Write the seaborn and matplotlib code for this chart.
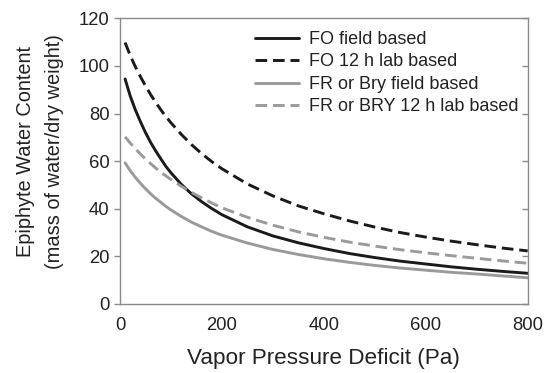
import numpy as np
import pandas as pd
import matplotlib
matplotlib.use("Agg")
import matplotlib.pyplot as plt
import seaborn as sns

# Vapor pressure deficit (Pa) at which each curve is sampled
vpd = [10, 20, 30, 40, 50, 60, 70, 80, 90, 100, 120, 140, 160, 180, 200,
       250, 300, 350, 400, 450, 500, 550, 600, 650, 700, 750, 800]

# Epiphyte water content (mass of water / dry weight)
fo_field = [94.5, 87.4, 81.6, 76.6, 72.0, 67.9, 64.3, 61.0, 57.8, 55.1, 50.3,
            46.3, 43.0, 40.1, 37.5, 32.4, 28.6, 25.7, 23.3, 21.2, 19.5, 18.0,
            16.8, 15.6, 14.6, 13.7, 12.9]
fo_lab = [109.8, 104.4, 99.7, 95.5, 91.6, 88.0, 84.7, 81.6, 78.7, 76.1, 71.3,
          67.0, 63.2, 59.8, 56.8, 50.4, 45.4, 41.2, 37.9, 34.9, 32.3, 30.0,
          28.1, 26.4, 24.9, 23.5, 22.3]
fr_field = [59.3, 56.0, 53.2, 50.7, 48.4, 46.3, 44.4, 42.7, 41.0, 39.5, 36.8,
            34.4, 32.4, 30.5, 28.9, 25.6, 22.9, 20.8, 19.0, 17.5, 16.2, 15.1,
            14.2, 13.3, 12.6, 11.8, 11.0]
fr_lab = [70.2, 67.6, 65.2, 63.0, 60.9, 59.0, 57.1, 55.4, 53.8, 52.3, 49.5,
          46.9, 44.6, 42.4, 40.4, 36.4, 33.1, 30.3, 28.0, 26.0, 24.3, 22.8,
          21.5, 20.3, 19.2, 18.1, 17.1]

labels = ["FO field based", "FO 12 h lab based",
          "FR or Bry field based", "FR or BRY 12 h lab based"]

sns.set_style("white")
plt.rcParams["font.family"] = ["Liberation Sans", "DejaVu Sans"]

axis_grey = "#8a8a8a"
text_col = "#222222"

fig = plt.figure(figsize=(5.52, 3.73), dpi=100)
ax = fig.add_axes([0.2174, 0.185, 0.7386, 0.766])

series = [
    (fo_field, "#1a1a1a", "-"),
    (fo_lab, "#1a1a1a", (0, (4, 2))),
    (fr_field, "#9a9a9a", "-"),
    (fr_lab, "#9a9a9a", (0, (4, 2))),
]
for (vals, col, ls), lab in zip(series, labels):
    df = pd.DataFrame({"vpd": vpd, "wc": vals})
    sns.lineplot(data=df, x="vpd", y="wc", ax=ax, color=col, linestyle=ls,
                 linewidth=2.1, label=lab)

ax.set_xlim(0, 800)
ax.set_ylim(0, 120)
ax.set_xticks([0, 200, 400, 600, 800])
ax.set_yticks([0, 20, 40, 60, 80, 100, 120])

for sp in ax.spines.values():
    sp.set_visible(True)
    sp.set_color(axis_grey)
    sp.set_linewidth(1.0)

ax.tick_params(axis="both", direction="out", length=4, width=1.0,
               color=axis_grey, labelcolor=text_col, labelsize=13.3)
ax.tick_params(axis="x", pad=5.5)
ax.tick_params(axis="y", pad=3.5)

# mirrored inward ticks on the right-hand spine
axr = ax.twinx()
axr.set_ylim(0, 120)
axr.set_yticks([0, 20, 40, 60, 80, 100, 120])
axr.tick_params(axis="y", direction="in", length=4, width=1.0,
                color=axis_grey, labelright=False)
for sp in axr.spines.values():
    sp.set_visible(False)

ax.set_xlabel("Vapor Pressure Deficit (Pa)", fontsize=16.2, color=text_col)
ax.xaxis.label.set_va("center")
ax.xaxis.set_label_coords(0.5, -0.191)

ax.set_ylabel("Epiphyte Water Content\n(mass of water/dry weight)",
              fontsize=14.4, color=text_col, linespacing=1.68)
ax.yaxis.label.set_va("center")
ax.yaxis.set_label_coords(-0.197, 0.535)

leg = ax.legend(loc="upper left", bbox_to_anchor=(255 / 552, 1 - 31 / 373),
                bbox_transform=fig.transFigure, frameon=False, fontsize=13,
                handlelength=2.45, handletextpad=0.55, labelspacing=0.3,
                borderpad=0, borderaxespad=0)
for t in leg.get_texts():
    t.set_color(text_col)

fig.savefig("out.png", dpi=100)
